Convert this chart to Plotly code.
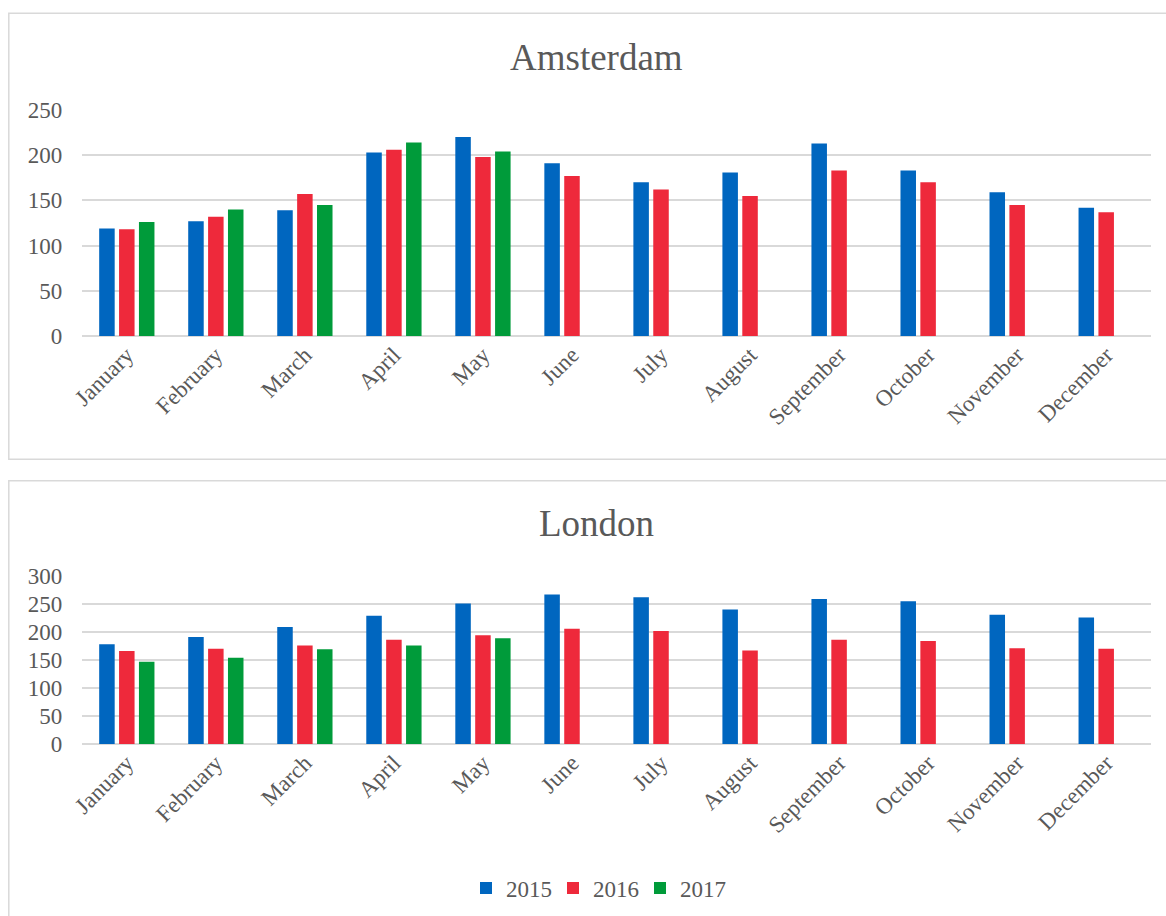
import plotly.graph_objects as go

# Monthly values per city and year
months = ["January", "February", "March", "April", "May", "June",
          "July", "August", "September", "October", "November", "December"]
years = ["2015", "2016", "2017"]

amsterdam_2015 = [119, 127, 139, 203, 220, 191, 170, 181, 213, 183, 159, 142]
amsterdam_2016 = [118, 132, 157, 206, 198, 177, 162, 155, 183, 170, 145, 137]
amsterdam_2017 = [126, 140, 145, 214, 204, None, None, None, None, None, None, None]

london_2015 = [178, 191, 209, 229, 251, 267, 262, 240, 259, 255, 231, 226]
london_2016 = [166, 170, 176, 186, 194, 206, 202, 167, 186, 184, 171, 170]
london_2017 = [147, 154, 169, 176, 189, None, None, None, None, None, None, None]

colors = {"2015": "#0066BF", "2016": "#EE293B", "2017": "#009B3A"}

W, H = 1166, 916
FONT = "Liberation Serif, Times New Roman, serif"
GREY = "#595959"
GRID = "#d9d9d9"


def px_x(x):
    return x / W


def px_y(y):
    return 1 - y / H


fig = go.Figure()

series = [
    ("x", "y", [amsterdam_2015, amsterdam_2016, amsterdam_2017], True),
    ("x2", "y2", [london_2015, london_2016, london_2017], False),
]
for xa, ya, vals, show in series:
    for year, v in zip(years, vals):
        fig.add_trace(go.Bar(
            x=months, y=v, name=year, xaxis=xa, yaxis=ya,
            marker=dict(color=colors[year], line=dict(width=0)),
            showlegend=show, legendgroup=year,
        ))

x_dom = [px_x(82.3), px_x(1150.7)]
axis_common = dict(
    showgrid=False, showline=False, zeroline=False, ticks="",
    tickfont=dict(family=FONT, size=23, color=GREY),
    tickangle=-45, categoryorder="array", categoryarray=months,
    automargin=False,
)
yaxis_common = dict(
    showgrid=True, gridcolor=GRID, gridwidth=1.5, zeroline=True,
    zerolinecolor=GRID, zerolinewidth=1.5, showline=False, ticks="",
    tickfont=dict(family=FONT, size=23, color=GREY), ticklabelstandoff=19,
    automargin=False,
)

fig.update_layout(
    width=W, height=H,
    margin=dict(l=0, r=0, t=0, b=0, autoexpand=False),
    paper_bgcolor="white", plot_bgcolor="white",
    barmode="group", bargap=0.33, bargroupgap=0.22,
    font=dict(family=FONT, color=GREY),
    xaxis=dict(domain=x_dom, anchor="y", **axis_common),
    yaxis=dict(domain=[px_y(336), px_y(110)], anchor="x", range=[0, 250],
               dtick=50, **yaxis_common),
    xaxis2=dict(domain=x_dom, anchor="y2", **axis_common),
    yaxis2=dict(domain=[px_y(744), px_y(576)], anchor="x2", range=[0, 300],
                dtick=50, **yaxis_common),
    legend=dict(orientation="h", x=px_x(466), xanchor="left",
                y=px_y(888), yanchor="middle",
                font=dict(family=FONT, size=23, color=GREY),
                bgcolor="rgba(0,0,0,0)", itemwidth=30,
                entrywidth=42, entrywidthmode="pixels"),
)

# Chart frames
fig.add_shape(type="rect", xref="paper", yref="paper",
              x0=px_x(8.8), x1=px_x(1190), y0=px_y(459.3), y1=px_y(13.3),
              line=dict(color=GRID, width=1.5), layer="below")
fig.add_shape(type="rect", xref="paper", yref="paper",
              x0=px_x(8.8), x1=px_x(1190), y0=px_y(960), y1=px_y(480.7),
              line=dict(color=GRID, width=1.5), layer="below")

# Chart titles
for text, y in [("Amsterdam", 57), ("London", 523)]:
    fig.add_annotation(text=text, xref="paper", yref="paper",
                       x=px_x(596), y=px_y(y), xanchor="center", yanchor="middle",
                       showarrow=False,
                       font=dict(family=FONT, size=37, color=GREY))

fig.write_html("out.html")
